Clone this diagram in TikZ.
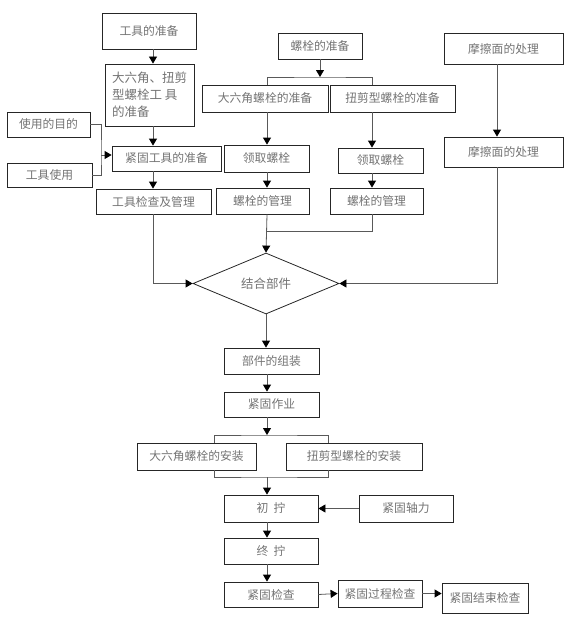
\documentclass[tikz,border=0pt]{standalone}
\usepackage{fontspec}
\setmainfont{Noto Sans CJK SC}
\usetikzlibrary{arrows.meta,shapes.geometric}

\begin{document}
\begin{tikzpicture}[
  x=1pt,y=-1pt,
  box/.style={rectangle,draw=black!85,line width=0.8pt,inner sep=0pt,text=black!55,font=\fontsize{11.8}{13}\selectfont},
  link/.style={draw=black!65,line width=0.8pt},
  tip/.style={link,-{Triangle[length=7pt,width=8pt,color=black]}}
]
\useasboundingbox (0,0) rectangle (576,618);

\def\stepbox#1:#2,#3:#4,#5:#6;{
  \node[box,minimum width=#4pt,minimum height=#5pt] (#1) at (#2,#3) {#6};
}

% column lines
\coordinate (colL) at (267,0);
\coordinate (colR) at (372,0);
\coordinate (colT) at (153,0);
\coordinate (colF) at (497,0);
\coordinate (brL) at (214,0);
\coordinate (brR) at (328,0);

% tools
\stepbox tprep:149,31:94,36:{工具的准备};
\node[box,minimum width=89pt,minimum height=62pt,align=left,font=\fontsize{12.5}{17}\selectfont] (tspec) at (149.5,95) {大六角、扭剪\\型螺栓工 具\\的准备};
\stepbox purpose:48.5,124.5:83,25:{使用的目的};
\stepbox tuse:49.5,175:85,24:{工具使用};
\stepbox tfix:166.5,158.5:109,25:{紧固工具的准备};
\stepbox tchk:153.5,201.5:115,25:{工具检查及管理};

% bolts
\stepbox bprep:320,46:84,26:{螺栓的准备};
\stepbox bhex:265,98.5:126,27:{大六角螺栓的准备};
\stepbox bshear:392.5,98.5:125,27:{扭剪型螺栓的准备};
\stepbox bgetL:266.5,158.5:85,27:{领取螺栓};
\stepbox bmanL:262.5,201:93,26:{螺栓的管理};
\stepbox bgetR:380.5,160.5:85,25:{领取螺栓};
\stepbox bmanR:376.5,201:93,26:{螺栓的管理};

% friction surface
\stepbox fric:503.5,48.5:119,31:{摩擦面的处理};
\stepbox fricb:503.5,152:119,30:{摩擦面的处理};

\node[diamond,draw=black!85,line width=0.8pt,inner sep=0pt,aspect=2.4,minimum width=146pt,minimum height=61pt,text=black!55,font=\fontsize{12.5}{13}\selectfont] (join) at (266,283.5) {结合部件};

% assembly
\stepbox assm:271.5,361:95,26:{部件的组装};
\stepbox fwork:271.5,404.5:95,25:{紧固作业};
\stepbox ihex:196.5,456.5:119,27:{大六角螺栓的安装};
\stepbox ishear:354,456.5:136,27:{扭剪型螺栓的安装};
\stepbox init:271,508.5:94,27:{初\ \ 拧};
\stepbox axial:406,508.5:94,27:{紧固轴力};
\stepbox final:271,551:94,26:{终\ \ 拧};
\stepbox check:271,594.5:94,25:{紧固检查};
\stepbox pchk:380,593.5:84,27:{紧固过程检查};
\stepbox echk:485,598:86,30:{紧固结束检查};

\coordinate (usej) at (101,155);
\coordinate (split) at (320,77);
\coordinate (merge) at (372,231);
\coordinate (brtop) at (267,435);
\coordinate (brbot) at (267,477);

% tool column
\draw[tip] (tprep.south -| colT) -- (tspec.north -| colT);
\draw[tip] (tspec.south -| colT) -- (tfix.north -| colT);
\draw[tip] (tfix.south -| colT) -- (tchk.north -| colT);
\draw[link] (purpose.east) -| (usej) |- (tuse.east);
\draw[tip] (usej) -- (usej -| tfix.west);
\draw[tip] (tchk.south -| colT) |- (join.west);

% bolt columns
\draw[tip] (bprep.south) -- (split);
\draw[link] (bhex.north -| colL) |- (split) -| (bshear.north -| colR);
\draw[tip] (bhex.south -| colL) -- (bgetL.north -| colL);
\draw[tip] (bgetL.south -| colL) -- (bmanL.north -| colL);
\draw[tip] (bshear.south -| colR) -- (bgetR.north -| colR);
\draw[tip] (bgetR.south -| colR) -- (bmanR.north -| colR);
\draw[link] (bmanR.south -| colR) -- (merge) -- (merge -| colL);
\draw[tip] (bmanL.south -| colL) -- (join.north);

% friction column
\draw[tip] (fric.south -| colF) -- (fricb.north -| colF);
\draw[tip] (fricb.south -| colF) |- (join.east);

% lower chain
\draw[tip] (join.south) -- (assm.north -| join.south);
\draw[tip] (assm.south -| colL) -- (fwork.north -| colL);
\draw[tip] (fwork.south -| colL) -- (brtop);
\draw[link] (ihex.north -| brL) |- (brtop) -| (ishear.north -| brR);
\draw[link] (ihex.south -| brL) |- (brbot) -| (ishear.south -| brR);
\draw[tip] (brbot) -- (init.north -| colL);
\draw[tip] (axial.west) -- (init.east);
\draw[tip] (init.south -| colL) -- (final.north -| colL);
\draw[tip] (final.south -| colL) -- (check.north -| colL);
\draw[tip] (check.east) -- (pchk.west);
\draw[tip] (pchk.east) -- (pchk.east -| echk.west);

\end{tikzpicture}
\end{document}
